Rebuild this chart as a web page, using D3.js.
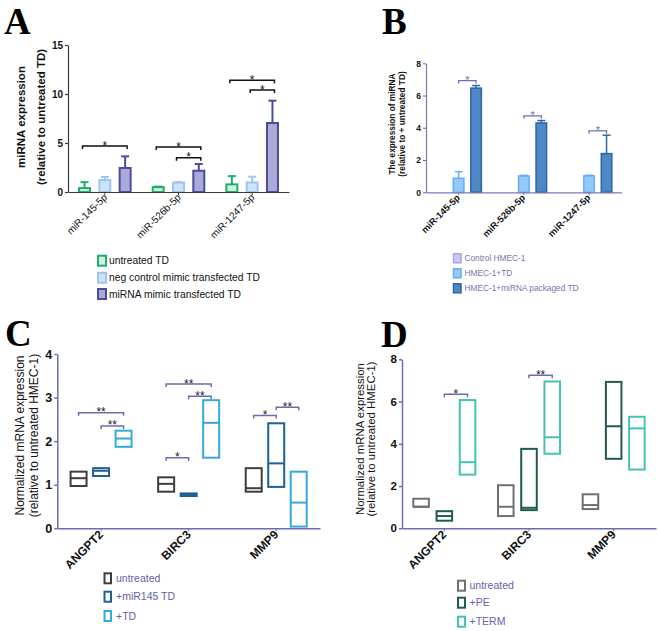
<!DOCTYPE html>
<html><head><meta charset="utf-8">
<script src="https://cdn.jsdelivr.net/npm/d3@7"></script>
<style>body{margin:0;background:#fff} svg{display:block} text{font-family:"Liberation Sans",Arial,sans-serif}</style>
</head><body><svg id="c" width="660" height="631"></svg>
<script>
// ---------- DATA ----------
const miRNAs = ["miR-145-5p", "miR-526b-5p", "miR-1247-5p"];
const aSeries = ["untreated TD", "neg control mimic transfected  TD", "miRNA mimic transfected TD"];
const aUntreated = [0.40, 0.50, 0.78], aUntreatedErr = [1.00, 0.55, 1.62];
const aNegCtrl = [1.22, 0.95, 0.97], aNegCtrlErr = [1.53, 1.00, 1.56];
const aMimic = [2.45, 2.17, 7.04], aMimicErr = [3.64, 2.86, 9.32];
const aTicks = [0, 5, 10, 15];
const aSig = [[0, 0, 2, 4.7, "*"], [1, 0, 2, 4.6, "*"], [1, 1, 2, 3.5, "*"], [2, 0, 2, 11.4, "*"], [2, 1, 2, 10.4, "*"]];

const bSeries = ["Control HMEC-1", "HMEC-1+TD", "HMEC-1+miRNA packaged TD"];
const bControl = [0, 0, 0], bControlErr = [0, 0, 0];
const bTD = [0.87, 1.01, 1.02], bTDErr = [1.28, 1.05, 1.06];
const bPackaged = [6.46, 4.30, 2.40], bPackagedErr = [6.62, 4.45, 3.54];
const bTicks = [0, 2, 4, 6, 8];
const bSig = [[0, 1, 2, 6.93, "*"], [1, 1, 2, 4.74, "*"], [2, 1, 2, 3.81, "*"]];

const genes = ["ANGPT2", "BIRC3", "MMP9"];
const cSeries = ["untreated", "+miR145 TD", "+TD"];
// [min, median, max]
const cUntreated = [[0.97, 1.15, 1.30], [0.84, 1.02, 1.17], [0.84, 0.92, 1.38]];
const cMiR145 = [[1.20, 1.32, 1.38], [0.74, 0.77, 0.80], [0.95, 1.49, 2.41]];
const cTD = [[1.87, 2.06, 2.24], [1.62, 2.42, 2.94], [0.04, 0.59, 1.30]];
const cTicks = [0, 1, 2, 3, 4];
const cSig = [[0, 0, 2, 2.65, "**"], [0, 1, 2, 2.35, "**"], [1, 0, 2, 3.31, "**"], [1, 1, 2, 3.03, "**"], [1, 0, 1, 1.62, "*"], [2, 0, 1, 2.59, "*"], [2, 1, 2, 2.78, "**"]];

const dSeries = ["untreated", "+PE", "+TERM"];
const dUntreated = [[1.02, 1.02, 1.40], [0.58, 1.02, 2.04], [0.91, 1.10, 1.61]];
const dPE = [[0.36, 0.58, 0.81], [0.86, 0.97, 3.76], [3.29, 4.83, 6.93]];
const dTERM = [[2.54, 3.13, 6.07], [3.53, 4.31, 6.95], [2.78, 4.73, 5.28]];
const dTicks = [0, 2, 4, 6, 8];
const dSig = [[0, 1, 2, 6.35, "*"], [1, 1, 2, 7.25, "**"]];

// ---------- DRAW ----------
const svg = d3.select("#c");

function axes(p) {
  const g = svg.append("g");
  const ya = g.append("g").attr("transform", `translate(${p.x.range()[0]},0)`)
    .call(d3.axisLeft(p.y).tickValues(p.ticks).tickFormat(d3.format("d")).tickSize(p.tickSize).tickSizeOuter(0).tickPadding(p.tickPad));
  ya.select(".domain").attr("stroke", p.axisColor).attr("stroke-width", p.axisW);
  ya.selectAll(".tick line").attr("stroke", p.axisColor).attr("stroke-width", p.axisW);
  ya.selectAll(".tick text").attr("font-size", p.yFont).attr("font-weight", "bold").attr("fill", "#111");
  const xa = g.append("g").attr("transform", `translate(0,${p.y(0)})`)
    .call(d3.axisBottom(p.x).tickSize(3).tickSizeOuter(0).tickFormat(""));
  xa.select(".domain").attr("stroke", p.axisColor).attr("stroke-width", p.axisW);
  xa.selectAll(".tick line").attr("stroke", p.axisColor).attr("stroke-width", 1);
  p.x.domain().forEach(c => {
    const cx = p.x(c) + p.x.bandwidth() / 2;
    svg.append("text").attr("transform", `translate(${cx + p.lab.dx},${p.y(0) + p.lab.dy}) rotate(-45)`)
      .attr("text-anchor", "end").attr("font-size", p.lab.size).attr("font-weight", p.lab.weight)
      .attr("fill", "#111").text(c);
  });
}

function yTitle(lines, xs, cy, size, weight, color) {
  lines.forEach((t, i) => {
    svg.append("text").attr("transform", `translate(${xs[i]},${cy}) rotate(-90)`)
      .attr("text-anchor", "middle").attr("font-size", size).attr("font-weight", weight)
      .attr("fill", color || "#111").text(t);
  });
}

function letter(t, x, y) {
  svg.append("text").attr("x", x).attr("y", y)
    .style("font-family", '"Liberation Serif","Times New Roman",serif')
    .attr("font-weight", "bold").attr("font-size", 37).attr("fill", "#000").text(t);
}

function legend(items, sx, tx, ys, sw, sh, size, color, sww) {
  items.forEach((it, i) => {
    svg.append("rect").attr("x", sx).attr("y", ys[i] - sh / 2).attr("width", sw).attr("height", sh)
      .attr("fill", it.fill).attr("stroke", it.stroke).attr("stroke-width", sww);
    svg.append("text").attr("x", tx).attr("y", ys[i]).attr("dy", "0.35em").attr("font-size", size)
      .attr("fill", color).text(it.name);
  });
}

function sigs(p, list, inner, col, starSize, starCol, drop, lw) {
  list.forEach(([gi, a, b, v, lab]) => {
    const gc = p.x(p.x.domain()[gi]) + p.x.bandwidth() / 2;
    const xa = gc + inner(a) + inner.bandwidth() / 2 + (p.sigInset || 0);
    const xb = gc + inner(b) + inner.bandwidth() / 2 - (p.sigInset || 0);
    const yy = p.y(v);
    svg.append("path").attr("d", `M${xa},${yy + drop}V${yy}H${xb}V${yy + drop}`)
      .attr("fill", "none").attr("stroke", col).attr("stroke-width", lw);
    svg.append("text").attr("x", (xa + xb) / 2).attr("y", yy + starSize * 0.3).attr("text-anchor", "middle")
      .attr("font-size", starSize).attr("fill", starCol).text(lab);
  });
}

function bars(p, series, inner, sw) {
  series.forEach((s, si) => {
    p.x.domain().forEach((c, gi) => {
      const gc = p.x(c) + p.x.bandwidth() / 2;
      const bx = gc + inner(si);
      const w = inner.bandwidth();
      const v = s.values[gi], e = s.errs[gi];
      if (e > v) {
        svg.append("line").attr("x1", bx + w / 2).attr("x2", bx + w / 2).attr("y1", p.y(v)).attr("y2", p.y(e))
          .attr("stroke", s.stroke).attr("stroke-width", sw);
        svg.append("line").attr("x1", bx + w / 2 - 4).attr("x2", bx + w / 2 + 4).attr("y1", p.y(e)).attr("y2", p.y(e))
          .attr("stroke", s.stroke).attr("stroke-width", sw);
      }
      svg.append("rect").attr("x", bx + sw / 2).attr("y", p.y(v)).attr("width", w - sw)
        .attr("height", p.y(0) - p.y(v)).attr("fill", s.fill).attr("stroke", s.stroke).attr("stroke-width", sw);
    });
  });
}

function boxes(p, series, inner, sw) {
  series.forEach((s, si) => {
    p.x.domain().forEach((c, gi) => {
      const gc = p.x(c) + p.x.bandwidth() / 2;
      const bx = gc + inner(si);
      const w = inner.bandwidth();
      const [mn, md, mx] = s.values[gi];
      svg.append("rect").attr("x", bx).attr("y", p.y(mx)).attr("width", w)
        .attr("height", Math.max(1, p.y(mn) - p.y(mx))).attr("fill", "#fff")
        .attr("stroke", s.stroke).attr("stroke-width", sw);
      svg.append("line").attr("x1", bx).attr("x2", bx + w).attr("y1", p.y(md)).attr("y2", p.y(md))
        .attr("stroke", s.stroke).attr("stroke-width", sw);
    });
  });
}

// ---- Panel A ----
const pA = {
  x: d3.scaleBand().domain(miRNAs).range([68, 289]),
  y: d3.scaleLinear().domain([0, 15]).range([192, 45]),
  ticks: aTicks, tickSize: 3, tickPad: 2, axisColor: "#3a3a3a", axisW: 1.2, yFont: 10,
  lab: { dx: 3, dy: 6, size: 10, weight: "normal" }, sigInset: -2
};
const innerA = d3.scaleBand().domain([0, 1, 2]).range([-26.8, 26.8]).paddingInner(0.36);
const serA = [
  { name: aSeries[0], values: aUntreated, errs: aUntreatedErr, fill: "#cdf1de", stroke: "#22ab6f" },
  { name: aSeries[1], values: aNegCtrl, errs: aNegCtrlErr, fill: "#cfe1f8", stroke: "#9dc5f0" },
  { name: aSeries[2], values: aMimic, errs: aMimicErr, fill: "#aaaad7", stroke: "#4b4b9f" }
];
bars(pA, serA, innerA, 2);
axes(pA);
sigs(pA, aSig, innerA, "#111", 12, "#111", 3, 1.5);
yTitle(["miRNA expression", "(relative to untreated TD)"], [25, 45], 117, 11.5, "bold");
letter("A", 4, 34);
legend(serA, 98, 109, [260.7, 277.7, 294], 8, 10, 10.3, "#111", 2);

// ---- Panel B ----
const pB = {
  x: d3.scaleBand().domain(miRNAs).range([426, 621.7]),
  y: d3.scaleLinear().domain([0, 8]).range([192.3, 63.3]),
  ticks: bTicks, tickSize: 3, tickPad: 2, axisColor: "#7a7ab2", axisW: 1.2, yFont: 8.5,
  lab: { dx: 2, dy: 6, size: 9.3, weight: "bold" }
};
const innerB = d3.scaleBand().domain([0, 1, 2]).range([-23.5, 23.5]).paddingInner(0.31);
const serB = [
  { name: bSeries[0], values: bControl, errs: bControlErr, fill: "#cac7f3", stroke: "#a9a5e9" },
  { name: bSeries[1], values: bTD, errs: bTDErr, fill: "#95caf8", stroke: "#62aef1" },
  { name: bSeries[2], values: bPackaged, errs: bPackagedErr, fill: "#4e88c7", stroke: "#2f66a3" }
];
bars(pB, serB, innerB, 1.5);
axes(pB);
sigs(pB, bSig, innerB, "#6f6fae", 11, "#6f6fae", 3, 1.3);
yTitle(["The expression of miRNA", "(relative to + untreated TD)"], [395, 405], 124, 8.3, "bold");
letter("B", 382, 34);
legend(serB, 453.5, 464.5, [258.3, 273.3, 288.3], 7.5, 9, 8.3, "#7a74aa", 1.5);

// ---- Panel C ----
const pC = {
  x: d3.scaleBand().domain(genes).range([57.3, 320]),
  y: d3.scaleLinear().domain([0, 4]).range([528.3, 354]),
  ticks: cTicks, tickSize: 3, tickPad: 2, axisColor: "#6c6cb0", axisW: 1.5, yFont: 12.5,
  lab: { dx: 3, dy: 7, size: 12, weight: "bold" }
};
const innerC = d3.scaleBand().domain([0, 1, 2]).range([-30.5, 30.5]).paddingInner(0.29);
const serC = [
  { name: cSeries[0], values: cUntreated, fill: "#fff", stroke: "#3d3d3d" },
  { name: cSeries[1], values: cMiR145, fill: "#fff", stroke: "#1d5f97" },
  { name: cSeries[2], values: cTD, fill: "#fff", stroke: "#36a9dc" }
];
boxes(pC, serC, innerC, 2);
axes(pC);
sigs(pC, cSig, innerC, "#6c6cb0", 12, "#222", 3, 1.5);
yTitle(["Normalized mRNA expression", "(relative to untreated HMEC-1)"], [24, 37.5], 435.5, 12, "normal");
letter("C", 5, 346);
legend(serC, 104.5, 116, [578.3, 596.7, 616], 6.5, 10, 10.5, "#6661a8", 2);

// ---- Panel D ----
const pD = {
  x: d3.scaleBand().domain(genes).range([402, 656]),
  y: d3.scaleLinear().domain([0, 8]).range([528.3, 359.3]),
  ticks: dTicks, tickSize: 3, tickPad: 2, axisColor: "#6c6cb0", axisW: 1.5, yFont: 11.5,
  lab: { dx: 3, dy: 7, size: 12, weight: "bold" }
};
const innerD = d3.scaleBand().domain([0, 1, 2]).range([-31, 31]).paddingInner(0.33);
const serD = [
  { name: dSeries[0], values: dUntreated, fill: "#fff", stroke: "#707070" },
  { name: dSeries[1], values: dPE, fill: "#fff", stroke: "#1f5b52" },
  { name: dSeries[2], values: dTERM, fill: "#fff", stroke: "#45c2b3" }
];
boxes(pD, serD, innerD, 2);
axes(pD);
sigs(pD, dSig, innerD, "#6c6cb0", 12, "#222", 3, 1.5);
yTitle(["Normalized mRNA expression", "(relative to untreated HMEC-1)"], [364, 375], 439, 11.4, "normal");
letter("D", 381, 346.5);
legend(serD, 458, 469.5, [585.7, 602.7, 621.7], 7, 10, 10.5, "#6661a8", 2);
</script></body></html>
